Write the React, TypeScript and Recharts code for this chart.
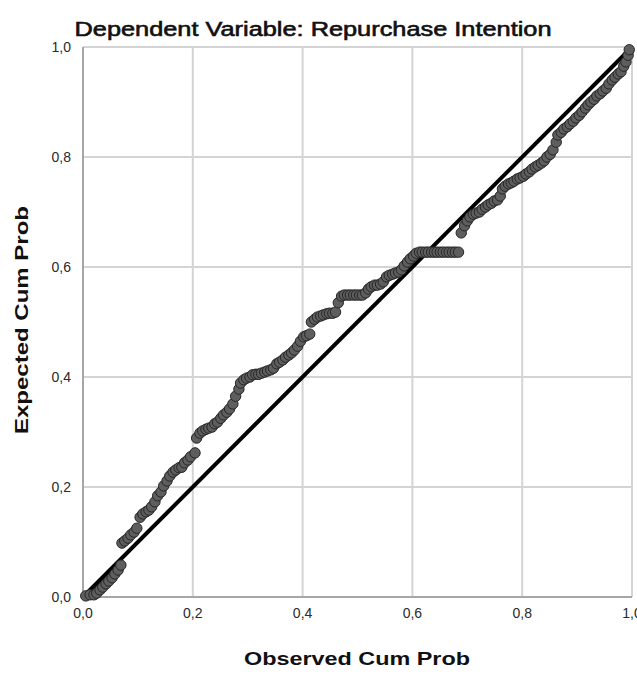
import React from 'react';
import {
  ScatterChart,
  Scatter,
  XAxis,
  YAxis,
  CartesianGrid,
  ReferenceLine,
} from 'recharts';

// observed cumulative probability (x)
const obsCumProb = [
  0.005, 0.013, 0.02, 0.025, 0.031, 0.036, 0.042, 0.047, 0.053, 0.058, 0.064, 0.069,
  0.071, 0.076, 0.082, 0.087, 0.093, 0.098, 0.104, 0.109, 0.115, 0.12, 0.125, 0.131, 0.136,
  0.142, 0.147, 0.153, 0.158, 0.164, 0.169, 0.175, 0.18, 0.185, 0.191, 0.196, 0.204,
  0.207, 0.213, 0.218, 0.224, 0.229, 0.235, 0.24, 0.245, 0.251, 0.256, 0.262, 0.267, 0.273,
  0.278, 0.284, 0.287, 0.293, 0.298, 0.304, 0.309, 0.315, 0.32, 0.325, 0.331, 0.336, 0.342,
  0.347, 0.353, 0.358, 0.364, 0.369, 0.375, 0.38, 0.385, 0.391, 0.396, 0.402, 0.407, 0.413,
  0.416, 0.422, 0.427, 0.433, 0.438, 0.444, 0.449, 0.455, 0.46, 0.465, 0.471, 0.476, 0.482,
  0.487, 0.493, 0.498, 0.504, 0.509, 0.515, 0.52, 0.525, 0.531, 0.536, 0.542, 0.547, 0.553,
  0.558, 0.564, 0.569, 0.575, 0.58, 0.585, 0.591, 0.596, 0.602, 0.607, 0.613, 0.618, 0.624,
  0.629, 0.635, 0.64, 0.645, 0.651, 0.656, 0.662, 0.667, 0.673, 0.678, 0.684,
  0.689, 0.695, 0.7, 0.705, 0.711, 0.716, 0.722, 0.727, 0.733, 0.738, 0.744, 0.749, 0.755,
  0.76, 0.764, 0.769, 0.775, 0.78, 0.785, 0.791, 0.796, 0.802, 0.807, 0.813, 0.818, 0.824,
  0.829, 0.835, 0.84, 0.845, 0.851, 0.856, 0.862, 0.865, 0.871, 0.876, 0.882, 0.887, 0.893,
  0.898, 0.904, 0.909, 0.915, 0.92, 0.925, 0.931, 0.936, 0.942, 0.947, 0.953, 0.958, 0.964,
  0.969, 0.975, 0.98, 0.985, 0.989, 0.993, 0.995,
];

// expected cumulative probability (y)
const expCumProb = [
  0.002, 0.004, 0.004, 0.007, 0.013, 0.018, 0.024, 0.029, 0.035, 0.042, 0.049, 0.058,
  0.098, 0.102, 0.107, 0.113, 0.118, 0.125, 0.145, 0.151, 0.155, 0.158, 0.164, 0.173, 0.184,
  0.191, 0.202, 0.211, 0.22, 0.227, 0.231, 0.235, 0.236, 0.244, 0.249, 0.255, 0.262,
  0.289, 0.298, 0.302, 0.305, 0.307, 0.309, 0.315, 0.318, 0.325, 0.331, 0.336, 0.342, 0.351,
  0.365, 0.378, 0.389, 0.395, 0.398, 0.4, 0.404, 0.405, 0.405, 0.407, 0.409, 0.411, 0.413,
  0.416, 0.424, 0.427, 0.431, 0.436, 0.44, 0.444, 0.449, 0.456, 0.465, 0.473, 0.475, 0.478,
  0.5, 0.505, 0.509, 0.511, 0.513, 0.515, 0.516, 0.516, 0.518, 0.535, 0.547, 0.549, 0.549,
  0.549, 0.549, 0.549, 0.549, 0.549, 0.553, 0.56, 0.564, 0.567, 0.567, 0.569, 0.573, 0.582,
  0.585, 0.587, 0.589, 0.591, 0.595, 0.602, 0.609, 0.615, 0.62, 0.625, 0.627, 0.627, 0.627,
  0.627, 0.627, 0.627, 0.627, 0.627, 0.627, 0.627, 0.627, 0.627, 0.627, 0.627,
  0.662, 0.675, 0.684, 0.691, 0.696, 0.698, 0.7, 0.705, 0.709, 0.713, 0.716, 0.72, 0.722,
  0.729, 0.742, 0.747, 0.751, 0.753, 0.756, 0.76, 0.762, 0.765, 0.769, 0.773, 0.778, 0.782,
  0.785, 0.789, 0.793, 0.8, 0.805, 0.813, 0.827, 0.84, 0.845, 0.851, 0.855, 0.86, 0.865,
  0.871, 0.876, 0.882, 0.889, 0.895, 0.9, 0.905, 0.911, 0.915, 0.92, 0.925, 0.933, 0.94,
  0.945, 0.951, 0.955, 0.965, 0.973, 0.985, 0.995,
];

const axisTicks = [0, 0.2, 0.4, 0.6, 0.8, 1];

const points = obsCumProb
  .slice(0, Math.min(obsCumProb.length, expCumProb.length))
  .map((x, i) => ({ x, y: expCumProb[i] }));

const fmt = (v: number) => v.toFixed(1).replace('.', ',');

const font = '"Liberation Sans", Arial, sans-serif';

function Dot(props: { cx?: number; cy?: number }) {
  if (props.cx == null || props.cy == null) return null;
  return <circle cx={props.cx} cy={props.cy} r={5.2} fill="#5e5e5e" stroke="#262626" strokeWidth={1} />;
}

export default function App() {
  return (
    <div style={{ position: 'absolute', left: 0, top: 0, width: 637, height: 677, background: '#fff' }}>
      <ScatterChart width={637} height={677} margin={{ top: 47, right: 5, bottom: 50, left: 0 }}>
        <CartesianGrid
          stroke="#d4d4d4"
          strokeWidth={2}
          horizontalValues={axisTicks}
          verticalValues={axisTicks}
        />
        <XAxis
          type="number"
          dataKey="x"
          domain={[0, 1]}
          ticks={axisTicks}
          tickFormatter={fmt}
          height={30}
          tickLine={false}
          tickMargin={5}
          axisLine={{ stroke: '#a6a6a6', strokeWidth: 2 }}
          tick={{ fill: '#2a2a2a', fontSize: 14, fontFamily: font }}
          interval={0}
        />
        <YAxis
          type="number"
          dataKey="y"
          domain={[0, 1]}
          ticks={axisTicks}
          tickFormatter={fmt}
          width={83}
          tickLine={false}
          tickMargin={6}
          axisLine={{ stroke: '#a6a6a6', strokeWidth: 2 }}
          tick={{ fill: '#2a2a2a', fontSize: 14, fontFamily: font }}
          interval={0}
        />
        <Scatter data={points} shape={<Dot />} isAnimationActive={false} />
        <ReferenceLine
          segment={[{ x: 0, y: 0 }, { x: 1, y: 1 }]}
          stroke="#000"
          strokeWidth={4}
          ifOverflow="visible"
        />
      </ScatterChart>
      <svg
        width={637}
        height={677}
        style={{ position: 'absolute', left: 0, top: 0, pointerEvents: 'none' }}
      >
        <text x={313} y={36} textAnchor="middle" fontFamily={font} fontSize={20} fill="#111"
          stroke="#111" strokeWidth={0.6} textLength={477} lengthAdjust="spacingAndGlyphs">
          Dependent Variable: Repurchase Intention
        </text>
        <text x={357} y={665} textAnchor="middle" fontFamily={font} fontSize={19} fontWeight="bold" fill="#111"
          textLength={226} lengthAdjust="spacingAndGlyphs">
          Observed Cum Prob
        </text>
        <text x={0} y={0} transform="translate(28 320) rotate(-90)" textAnchor="middle" fontFamily={font}
          fontSize={19} fontWeight="bold" fill="#111" textLength={228} lengthAdjust="spacingAndGlyphs">
          Expected Cum Prob
        </text>
      </svg>
    </div>
  );
}
